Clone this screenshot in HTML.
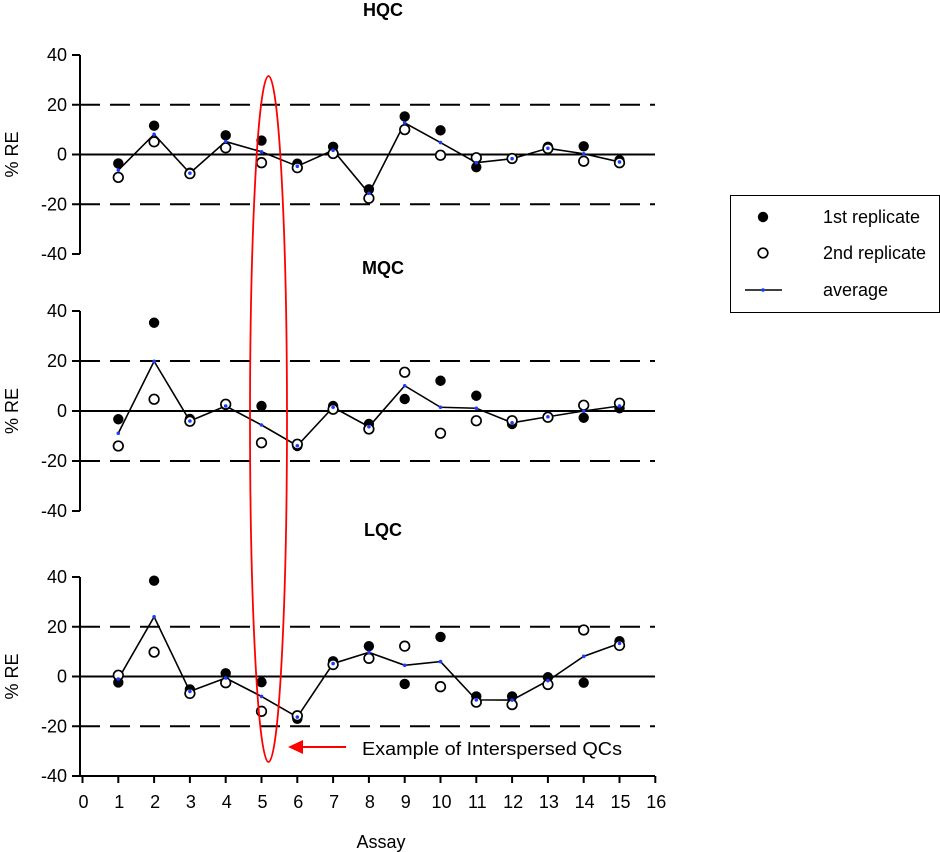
<!DOCTYPE html>
<html><head><meta charset="utf-8"><style>
html,body{margin:0;padding:0;background:#fff;width:940px;height:852px;overflow:hidden}
svg text{font-family:"Liberation Sans",Arial,sans-serif}
</style></head><body>
<svg id="chart" width="940" height="852" viewBox="0 0 940 852" xmlns="http://www.w3.org/2000/svg"></svg>
<script>
const assays = [1,2,3,4,5,6,7,8,9,10,11,12,13,14,15];
const hqcRep1 = [-3.6,11.6,-7.3,7.7,5.6,-3.7,3.1,-14,15.3,9.7,-5.1,-1.6,3.1,3.3,-2.3];
const hqcRep2 = [-9.2,5.1,-7.7,2.7,-3.3,-5.3,0.4,-17.6,10,-0.3,-1.3,-1.6,2.4,-2.7,-3.3];
const hqcAvg  = [-6.3,8.1,-7.5,5.2,1.1,-4.7,1.7,-15.6,12.7,4.8,-3.3,-1.7,2.5,0.3,-3];
const mqcRep1 = [-3.3,35.3,-3.2,2.4,2,-14,2,-5.2,4.8,12.1,6.1,-5.2,-2.3,-2.7,1.1];
const mqcRep2 = [-14,4.7,-4.1,2.7,-12.7,-13.3,0.7,-7.2,15.5,-8.9,-3.9,-3.9,-2.5,2.3,3.1];
const mqcAvg  = [-8.9,19.9,-4,2,-5.6,-13.9,1.5,-6.3,10.1,1.5,1.1,-4.7,-2.3,0,2];
const lqcRep1 = [-2.4,38.5,-5.2,1.3,-2.3,-17,6.1,12.2,-3,15.9,-8,-8,-0.3,-2.5,14.2];
const lqcRep2 = [0.5,9.8,-6.8,-2.5,-14,-15.8,4.8,7.3,12.2,-4.1,-10.3,-11.3,-3.2,18.7,12.5];
const lqcAvg  = [-1,24,-6,-0.6,-8,-16.3,5.2,9.7,4.5,6,-9.4,-9.5,-1.7,8.1,13.3];
const yTicks = [40,20,0,-20,-40];
const xTicks = [0,1,2,3,4,5,6,7,8,9,10,11,12,13,14,15,16];

const NS="http://www.w3.org/2000/svg";
const svg=document.getElementById('chart');
function mk(tag,attrs,parent){const e=document.createElementNS(NS,tag);for(const k in attrs)e.setAttribute(k,attrs[k]);(parent||svg).appendChild(e);return e;}
const xScale=v=>82.5+35.8*v;
const X0=80, X1=655;
const FS=18;

const panels=[
 {name:'hqc',title:'HQC',top:55,bottom:254,titleY:16,r1:hqcRep1,r2:hqcRep2,avg:hqcAvg},
 {name:'mqc',title:'MQC',top:311,bottom:511,titleY:274,r1:mqcRep1,r2:mqcRep2,avg:mqcAvg},
 {name:'lqc',title:'LQC',top:577,bottom:776,titleY:536,r1:lqcRep1,r2:lqcRep2,avg:lqcAvg}
];
panels.forEach(p=>{
 const g=mk('g',{});
 
 
 const ys=v=>p.bottom-(v+40)*(p.bottom-p.top)/80;
 const t=mk('text',{x:383,y:p.titleY,'text-anchor':'middle','font-size':FS,'font-weight':'bold'},g);t.textContent=p.title;
 
 const yl=mk('text',{x:0,y:0,'text-anchor':'middle','font-size':FS,transform:`translate(18,${ys(0)}) rotate(-90)`},g);yl.textContent='% RE';
 
 const ax=mk('line',{x1:X0,y1:p.top,x2:X0,y2:p.bottom,stroke:'#000','stroke-width':2},g);
 
 yTicks.forEach(v=>{
  mk('line',{x1:72,y1:ys(v),x2:X0,y2:ys(v),stroke:'#000','stroke-width':2},g);
  const tl=mk('text',{x:67,y:ys(v)+6,'text-anchor':'end','font-size':FS},g);tl.textContent=v;
  
 });
 [20,-20].forEach(v=>{const l=mk('line',{x1:X0,y1:ys(v),x2:X1,y2:ys(v),stroke:'#000','stroke-width':2,'stroke-dasharray':'20,10'},g);
  });
 const z=mk('line',{x1:X0,y1:ys(0),x2:X1,y2:ys(0),stroke:'#000','stroke-width':2},g);
 
 const pts=assays.map((a,i)=>xScale(a)+','+ys(p.avg[i])).join(' ');
 const pl=mk('polyline',{points:pts,fill:'none',stroke:'#000','stroke-width':1.6},g);
 
 assays.forEach((a,i)=>{
  const c1=mk('circle',{cx:xScale(a),cy:ys(p.r1[i]),r:5.2,fill:'#000'},g);
  
  const c2=mk('circle',{cx:xScale(a),cy:ys(p.r2[i]),r:4.8,fill:'#fff',stroke:'#000','stroke-width':1.7},g);
  
 });
 assays.forEach((a,i)=>{
  const d=mk('circle',{cx:xScale(a),cy:ys(p.avg[i]),r:1.8,fill:'#1a3cff'},g);
  
 });
});
// x axis
const xa=mk('line',{x1:X0,y1:776,x2:X1,y2:776,stroke:'#000','stroke-width':2});

xTicks.forEach(v=>{
 mk('line',{x1:xScale(v),y1:776,x2:xScale(v),y2:783,stroke:'#000','stroke-width':2});
 const t=mk('text',{x:xScale(v)+1,y:808,'text-anchor':'middle','font-size':FS},svg);t.textContent=v;
 
});
const xt=mk('text',{x:381,y:848,'text-anchor':'middle','font-size':FS});xt.textContent='Assay';

// ellipse & annotation
const el=mk('ellipse',{cx:268.5,cy:419,rx:18.5,ry:343,fill:'none',stroke:'#ff0000','stroke-width':1.8});

const ar=mk('line',{x1:346,y1:747,x2:300,y2:747,stroke:'#ff0000','stroke-width':2});

const ah=mk('polygon',{points:'288,747 303,740 303,754',fill:'#ff0000'});

const at=mk('text',{x:362,y:755,'font-size':FS,textLength:260,lengthAdjust:'spacingAndGlyphs'});at.textContent='Example of Interspersed QCs';

// legend
const lg=mk('g',{});

mk('rect',{x:730.5,y:195.5,width:209,height:117,fill:'#fff',stroke:'#000','stroke-width':1},lg);
const e1=mk('circle',{cx:763,cy:217,r:5.2,fill:'#000'},lg);

const e2=mk('circle',{cx:763,cy:253,r:4.8,fill:'#fff',stroke:'#000','stroke-width':1.7},lg);

const e3=mk('line',{x1:745,y1:290,x2:782,y2:290,stroke:'#000','stroke-width':1.6},lg);

mk('circle',{cx:763,cy:290,r:1.8,fill:'#1a3cff'},lg);
[['1st replicate',223],['2nd replicate',259],['average',296]].forEach(([s,y])=>{
 const t=mk('text',{x:823,y:y,'font-size':FS},lg);t.textContent=s;
 
});
</script>
</body></html>
